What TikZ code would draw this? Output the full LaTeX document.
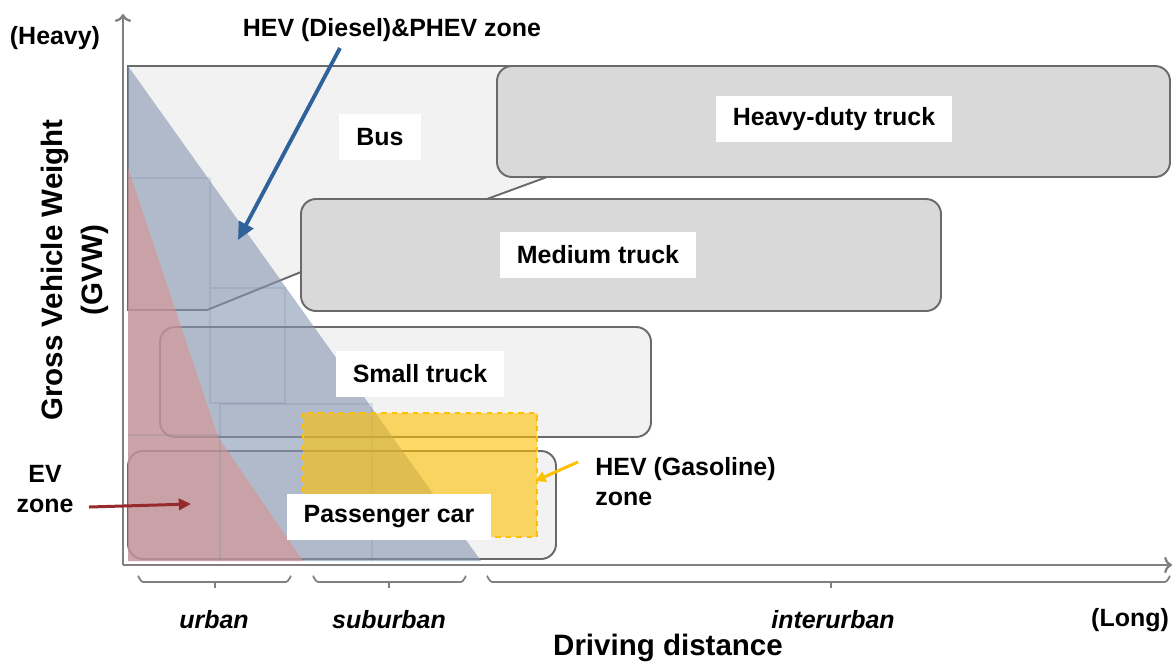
\documentclass[tikz,border=0pt]{standalone}
\usepackage{fontspec}
\setmainfont{Liberation Sans}
\usetikzlibrary{arrows.meta,positioning}
\definecolor{busgray}{HTML}{F2F2F2}
\definecolor{truckgray}{HTML}{D9D9D9}
\definecolor{edgegray}{HTML}{6A6A6A}
\definecolor{axisgray}{HTML}{808080}
\definecolor{hevblue}{RGB}{132,150,176}
\definecolor{evred}{RGB}{218,146,144}
\definecolor{arrowblue}{RGB}{46,98,155}
\definecolor{arrowred}{RGB}{150,42,42}
\definecolor{hevyellow}{RGB}{255,192,0}
\definecolor{gridblue}{RGB}{110,130,160}

\begin{document}
\begin{tikzpicture}[x=0.02cm,y=-0.02cm,
 box/.style={draw=edgegray,line width=1.1pt,rounded corners=0.3cm},
 tag/.style={fill=white,inner xsep=0.34cm,minimum height=0.92cm,font=\fontsize{14.2}{17}\selectfont\bfseries},
 txt/.style={font=\fontsize{14.2}{17}\selectfont\bfseries,inner sep=0pt,align=left},
 zonetxt/.style={font=\fontsize{14.2}{17}\selectfont\bfseries\itshape,inner sep=0pt},
 big/.style={font=\fontsize{16.8}{22.7}\selectfont\bfseries,inner sep=0pt,align=center},
 faint/.style={draw=gridblue,line width=0.6pt,opacity=0.2},
 brace/.style={draw=axisgray,line width=1pt}]
\useasboundingbox (0,0) rectangle (1173,664);
\coordinate (O) at (123,565);
% bus region behind the truck boxes
\filldraw[draw=edgegray,line width=1.1pt,fill=busgray] (128,66) -- (560,66) -- (560,177) -- (547,177)
 -- (487,199) -- (320,199) -- (301,272) -- (207,310) -- (128,310) -- cycle;
\draw[box,fill=truckgray] (497,66) rectangle (1170,177);
\draw[box,fill=truckgray] (301,199) rectangle (941,311);
\draw[box,fill=busgray] (160,327) rectangle (651,437);
\draw[box,fill=busgray] (128,451) rectangle (556,559);
% zones
\fill[hevblue,opacity=0.6] (128,66) -- (481,561) -- (128,561) -- cycle;
\fill[evred,opacity=0.6] (128,168) -- (218,437) -- (303,561) -- (128,561) -- cycle;
\draw[faint] (128,178) -- (210,178) -- (210,403) -- (285,403) -- (285,288) -- (210,288);
\draw[faint] (220,561) -- (220,404) -- (372,404) -- (372,561);
\draw[faint] (128,435) -- (220,435);
\draw[hevyellow,dashed,line width=1.2pt,fill=hevyellow,fill opacity=0.6] (303,413) rectangle (537,537);
% axes
\draw[axisgray,line width=1.3pt,->] (O) -- (1172,565);
\draw[axisgray,line width=1.3pt,->] (O) -- (123,14);
\foreach \a/\m/\b in {138/215/291,313/389/466,487/831/1170}{
 \draw[brace] (\a,577) to[out=90,in=180] (\a+5,582) -- (\b-5,582) to[out=0,in=90] (\b,577);
 \draw[brace] (\m,582) -- (\m,588);
}
\node[tag] (bus) at (380,137) {Bus};
\node[tag] (heavy) at (834,119) {Heavy-duty truck};
\node[tag] (medium) at (598,255) {Medium truck};
\node[tag] (small) at (420,374) {Small truck};
\node[tag] (car) at (389,517) {Passenger car};
\node[txt] (heavylbl) at (55,38) {(Heavy)};
\node[txt] (diesel) at (392,30) {HEV (Diesel)\&PHEV zone};
\node[txt,anchor=west] (gasoline) at (595,482) {HEV (Gasoline)\\zone};
\node[txt,align=center] (ev) at (45,489) {EV\\zone};
\node[big,rotate=90] (gvw) at (75,270) {Gross Vehicle Weight\\(GVW)};
\node[zonetxt] (urban) at (214,620) {urban};
\node[zonetxt] (suburban) at (389,620) {suburban};
\node[zonetxt] (interurban) at (833,620) {interurban};
\node[txt] (long) at (1130,620) {(Long)};
\node[big] (distance) at (668,648) {Driving distance};
% arrows to the zones
\coordinate (dstart) at (340,48);
\coordinate (dtip) at (238,240);
\coordinate (gstart) at (578,462);
\coordinate (gtip) at (535,481);
\coordinate (estart) at (89,507);
\coordinate (etip) at (191,504);
\draw[arrowblue,line width=2.2pt,-{Triangle[length=10pt,width=9pt]}] (dstart) -- (dtip);
\draw[hevyellow,line width=1.7pt,-{Triangle[length=6pt,width=6pt]}] (gstart) -- (gtip);
\draw[arrowred,line width=1.7pt,-{Triangle[length=7pt,width=6.5pt]}] (estart) -- (etip);
\end{tikzpicture}
\end{document}
